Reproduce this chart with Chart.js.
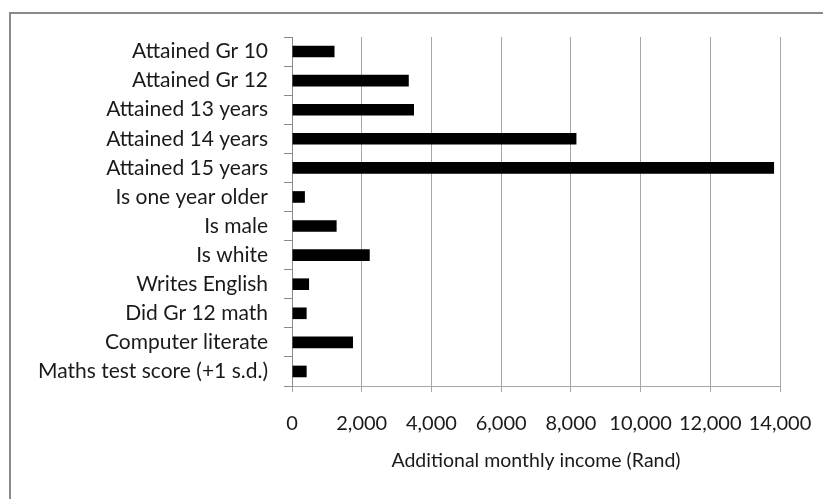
<!DOCTYPE html>
<html>
<head>
<meta charset="utf-8">
<script src="https://cdn.jsdelivr.net/npm/chart.js@4"></script>
<style>
  html, body { margin: 0; padding: 0; background: #fff; }
  #wrap { position: relative; width: 823px; height: 499px; }
  #frame {
    position: absolute; left: 9px; top: 12px; width: 830px; height: 500px;
    border-left: 2px solid #8a8a8a; border-top: 2px solid #8a8a8a;
    box-sizing: border-box; pointer-events: none;
  }
  canvas { position: absolute; left: 0; top: 0; }
</style>
</head>
<body>
<div id="wrap">
  <canvas id="chart" width="823" height="499"></canvas>
  <div id="frame"></div>
</div>
<script>
// Data
var categories = [
  'Attained Gr 10',
  'Attained Gr 12',
  'Attained 13 years',
  'Attained 14 years',
  'Attained 15 years',
  'Is one year older',
  'Is male',
  'Is white',
  'Writes English',
  'Did Gr 12 math',
  'Computer literate',
  'Maths test score (+1 s.d.)'
];
var incomeValues = [1220, 3350, 3500, 8160, 13830, 370, 1280, 2230, 490, 420, 1750, 420];
var xTicks = [0, 2000, 4000, 6000, 8000, 10000, 12000, 14000];
var xTitle = 'Additional monthly income (Rand)';

var fontFamily = 'Lato, "Open Sans", sans-serif';
var gridColor = '#a6a6a6';

new Chart(document.getElementById('chart'), {
    type: 'bar',
    data: {
        labels: categories,
        datasets: [{
            data: incomeValues,
            backgroundColor: '#000',
            borderWidth: 0,
            barPercentage: 0.4,
            categoryPercentage: 1.0,
        }]
    },
    options: {
        indexAxis: 'y',
        responsive: false,
        animation: false,
        layout: { padding: { top: 37, right: 43, bottom: 0, left: 0 } },
        plugins: { legend: { display: false }, tooltip: { enabled: false } },
        scales: {
            x: {
                min: 0,
                max: 14000,
                afterBuildTicks: function (scale) {
                    scale.ticks = xTicks.map(v => ({ value: v }));
                },
                afterFit: function (scale) {
                    scale.height = 113;
                    // the last label fits in the layout padding already
                    scale.paddingRight = 0;
                    scale.paddingLeft = 0;
                },
                grid: { color: gridColor, lineWidth: 1, tickLength: 6 },
                border: { color: gridColor },
                ticks: {
                    color: '#1a1a1a',
                    font: { family: fontFamily, size: 20 },
                    padding: 20,
                    maxRotation: 0,
                    autoSkip: false,
                    callback: function (val) { return Number(val).toLocaleString('en-US'); }
                },
                title: {
                    display: true,
                    text: xTitle,
                    color: '#1a1a1a',
                    font: { family: fontFamily, size: 19.5 },
                    padding: { top: 0, bottom: 27 }
                }
            },
            y: {
                afterFit: function (scale) { scale.width = 292; },
                grid: { drawOnChartArea: false, color: '#8a8a8a', tickLength: 8, offset: true },
                border: { color: '#8a8a8a' },
                ticks: {
                    color: '#1a1a1a',
                    font: { family: fontFamily, size: 21 },
                    padding: 16,
                    autoSkip: false
                }
            }
        }
    }
});
</script>
</body>
</html>
